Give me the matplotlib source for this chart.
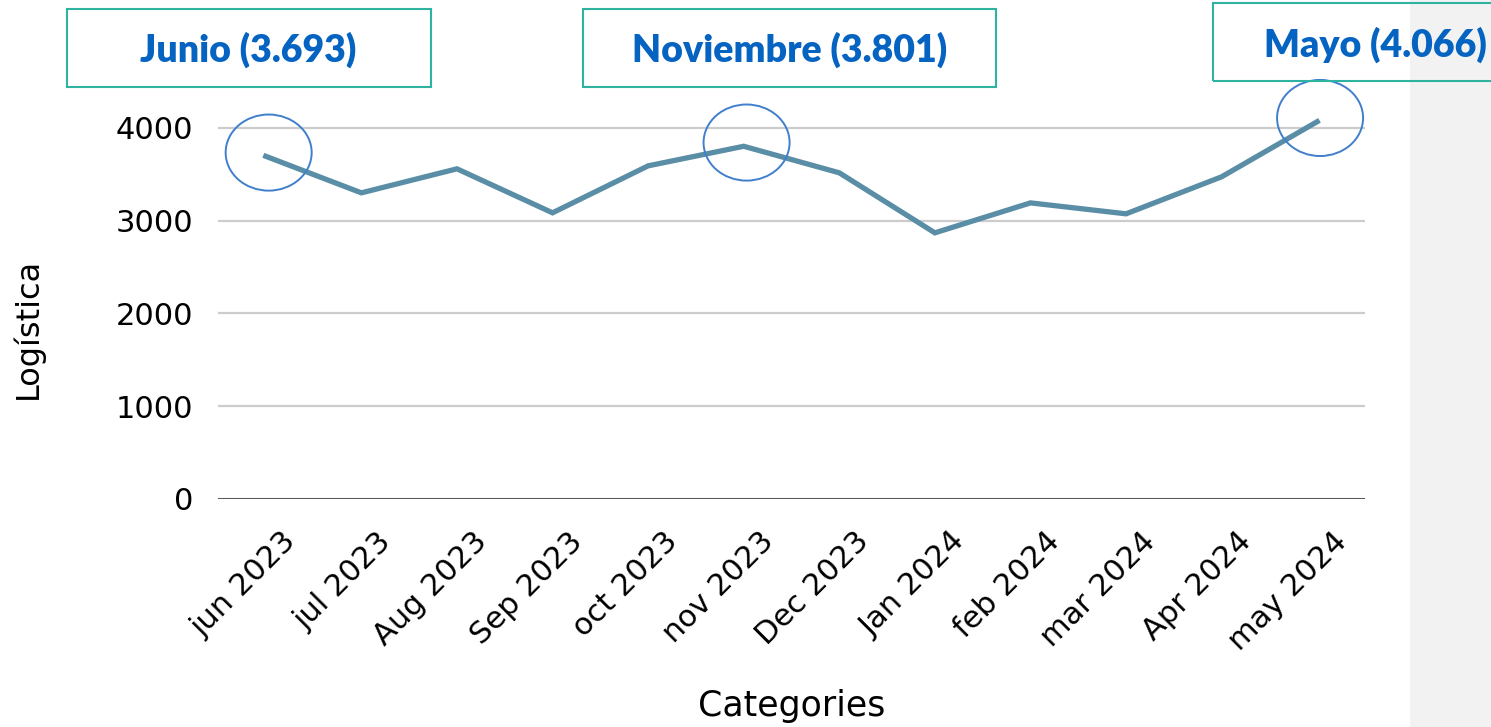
import matplotlib.pyplot as plt
import matplotlib.transforms as mtransforms
from matplotlib.patches import Ellipse, Rectangle
import numpy as np

# datos
meses = ['jun 2023', 'jul 2023', 'Aug 2023', 'Sep 2023', 'oct 2023', 'nov 2023',
         'Dec 2023', 'Jan 2024', 'feb 2024', 'mar 2024', 'Apr 2024', 'may 2024']
logistica = [3693, 3299, 3558, 3084, 3590, 3801, 3515, 2868, 3191, 3073, 3472, 4066]

destacados = [0, 5, 11]
etiquetas = ['Junio (3.693)', 'Noviembre (3.801)', 'Mayo (4.066)']

W, H = 1491, 727
plt.rcParams['font.family'] = ['DejaVu Sans']

fig = plt.figure(figsize=(W / 100, H / 100), dpi=100)
fig.patch.set_facecolor('white')

# fondo gris a la derecha
fig.add_artist(Rectangle((1410 / W, 0), 1 - 1410 / W, 1, transform=fig.transFigure,
                         facecolor='#f2f2f2', edgecolor='none', zorder=0))

ax = fig.add_axes([218 / W, 1 - 499 / H, (1365 - 218) / W, (499 - 35) / H])
ax.set_facecolor('none')

x = np.arange(len(meses))
ax.plot(x, logistica, color='#5A8EA6', lw=3.8, solid_joinstyle='miter', zorder=3)

ax.set_xlim(-0.5, len(meses) - 0.5)
ax.set_ylim(0, 5000)
ax.set_yticks([0, 1000, 2000, 3000, 4000])
ax.grid(axis='y', color='#cccccc', lw=1.6, zorder=1)
ax.axhline(0, color='#333333', lw=1.8, zorder=2)
for s in ax.spines.values():
    s.set_visible(False)

ax.set_xticks(x)
ax.set_xticklabels(meses, rotation=45, ha='right', va='top', rotation_mode='anchor')
ax.tick_params(axis='x', length=0, pad=20, labelsize=22)
ax.tick_params(axis='y', length=0, pad=18, labelsize=22)
off = mtransforms.ScaledTranslation(0.15, 0, fig.dpi_scale_trans)
for lab in ax.get_xticklabels():
    lab.set_transform(lab.get_transform() + off)

ax.set_xlabel('Categories', fontsize=25)
ax.set_ylabel('Logística', fontsize=23)
ax.xaxis.set_label_coords(0.5, -0.41)
ax.yaxis.set_label_coords(-0.152, 0.368)

# circulos de los puntos destacados
for i in destacados:
    e = Ellipse((x[i] + 0.03, logistica[i] + 40), 0.9, 820, fill=False,
                edgecolor='#3F7FCC', lw=1.4, clip_on=False, zorder=4)
    ax.add_patch(e)

# cuadros de texto
cuadros = [(67, 9, 431, 87), (583, 9, 996, 87), (1213, 3, 1500, 81)]
textos_x = [248, 790, 1375]
textos_y = [50, 50, 45]
for (x0, y0, x1, y1), t, tx, ty in zip(cuadros, etiquetas, textos_x, textos_y):
    fig.add_artist(Rectangle((x0 / W, 1 - y1 / H), (x1 - x0) / W, (y1 - y0) / H,
                             transform=fig.transFigure, fill=False,
                             edgecolor='#2DB3A0', lw=1.5, zorder=5))
    fig.text(tx / W, 1 - ty / H, t, ha='center', va='center', fontsize=27,
             fontweight='heavy', color='#0563C1', family=['Lato', 'DejaVu Sans'], zorder=6)

fig.savefig('out.png', dpi=100)
